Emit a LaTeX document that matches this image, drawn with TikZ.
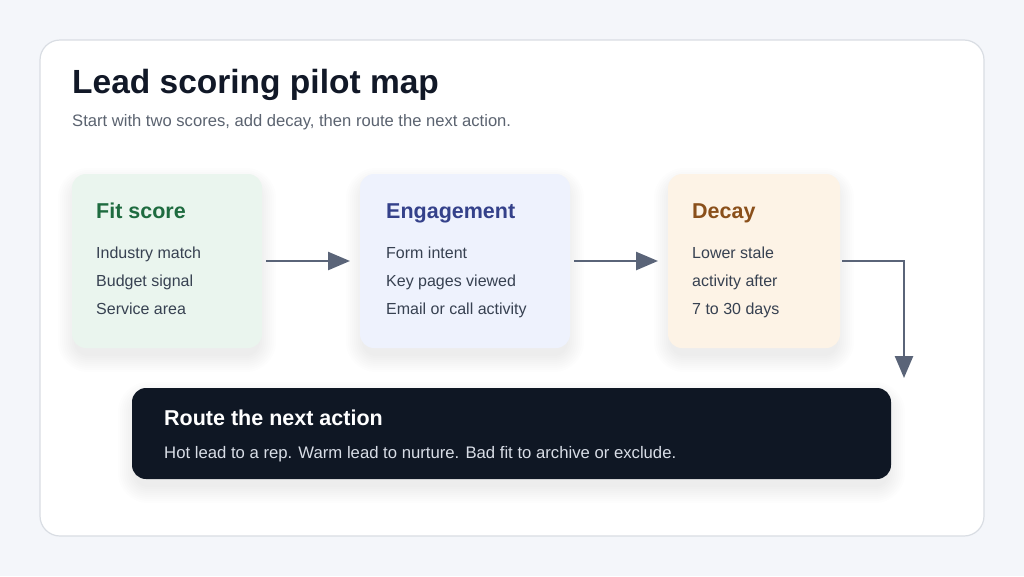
\documentclass[tikz,border=0pt]{standalone}
\usepackage{fontspec}
\setmainfont{Liberation Sans}
\usetikzlibrary{arrows.meta,calc}
\definecolor{bg}{HTML}{F4F6FA}
\definecolor{cardline}{HTML}{D9DDE3}
\definecolor{ink}{HTML}{111827}
\definecolor{sub}{HTML}{5B6370}
\definecolor{body}{HTML}{374151}
\definecolor{arr}{HTML}{5A6478}
\definecolor{fitbg}{HTML}{EAF5EE}\definecolor{fitfg}{HTML}{1E6B3F}
\definecolor{engbg}{HTML}{EEF2FD}\definecolor{engfg}{HTML}{34418A}
\definecolor{decbg}{HTML}{FDF3E6}\definecolor{decfg}{HTML}{8A4F1A}
\definecolor{dark}{HTML}{0F1724}\definecolor{darktxt}{HTML}{D8DDE6}
\newcommand{\softshadow}[2]{%
 \foreach \r in {16,14,...,0}{%
  \fill[black,opacity=0.008,rounded corners=14pt+\r pt] ($(#1)+(-\r+2,-\r+10)$) rectangle ($(#2)+(\r-2,\r+8)$);}}
\tikzset{
 x=1pt,y=-1pt,
 panel/.style={rounded corners=14pt},
 boxtitle/.style={anchor=base west,inner sep=0pt,font=\fontsize{21.5}{24}\selectfont\bfseries},
 item/.style={anchor=base west,inner sep=0pt,font=\fontsize{16}{18}\selectfont,text=body},
 flow/.style={draw=arr,line width=2.5pt,-{Triangle[length=22pt,width=18pt]}}
}
\begin{document}
\begin{tikzpicture}
\fill[bg] (0,0) rectangle (1024,576);
\useasboundingbox (0,0) rectangle (1024,576);
\draw[cardline,fill=white,line width=1.2pt,rounded corners=20pt] (40,40) rectangle (984,536);
\node[anchor=base west,inner sep=0pt,text=ink,font=\fontsize{33.5}{36}\selectfont\bfseries] (title) at (72,93) {Lead scoring pilot map};
\node[anchor=base west,inner sep=0pt,text=sub,font=\fontsize{16.6}{18}\selectfont] (subt) at (72,126) {Start with two scores, add decay, then route the next action.};
% boxes
\softshadow{72,174}{262,348}
\fill[fitbg,panel] (72,174) rectangle (262,348);
\node[boxtitle,text=fitfg] (fitt) at (96,218) {Fit score};
\node[item] (f1) at (96,258) {Industry match};
\node[item] (f2) at (96,286) {Budget signal};
\node[item] (f3) at (96,314) {Service area};
\softshadow{360,174}{570,348}
\fill[engbg,panel] (360,174) rectangle (570,348);
\node[boxtitle,text=engfg] (engt) at (386,218) {Engagement};
\node[item] (e1) at (386,258) {Form intent};
\node[item] (e2) at (386,286) {Key pages viewed};
\node[item] (e3) at (386,314) {Email or call activity};
\softshadow{668,174}{840,348}
\fill[decbg,panel] (668,174) rectangle (840,348);
\node[boxtitle,text=decfg] (dect) at (692,218) {Decay};
\node[item] (d1) at (692,258) {Lower stale};
\node[item] (d2) at (692,286) {activity after};
\node[item] (d3) at (692,314) {7 to 30 days};
\softshadow{132,388}{891,479}
\fill[dark,panel] (132,388) rectangle (891,479);
\node[anchor=base west,inner sep=0pt,text=white,font=\fontsize{21.5}{24}\selectfont\bfseries] (routet) at (164,425) {Route the next action};
\node[anchor=base west,inner sep=0pt,text=darktxt,font=\fontsize{16.7}{18}\selectfont] (routex) at (164,458) {Hot lead to a rep. Warm lead to nurture. Bad fit to archive or exclude.};
% connectors
\coordinate (a1s) at (266,261); \coordinate (a1e) at (350,261);
\coordinate (a2s) at (574,261); \coordinate (a2e) at (658,261);
\coordinate (a3s) at (842,261); \coordinate (a3c) at (904,261); \coordinate (a3e) at (904,378);
\draw[flow] (a1s) -- (a1e);
\draw[flow] (a2s) -- (a2e);
\draw[flow] (a3s) -- (a3c) -- (a3e);
\end{tikzpicture}
\end{document}
